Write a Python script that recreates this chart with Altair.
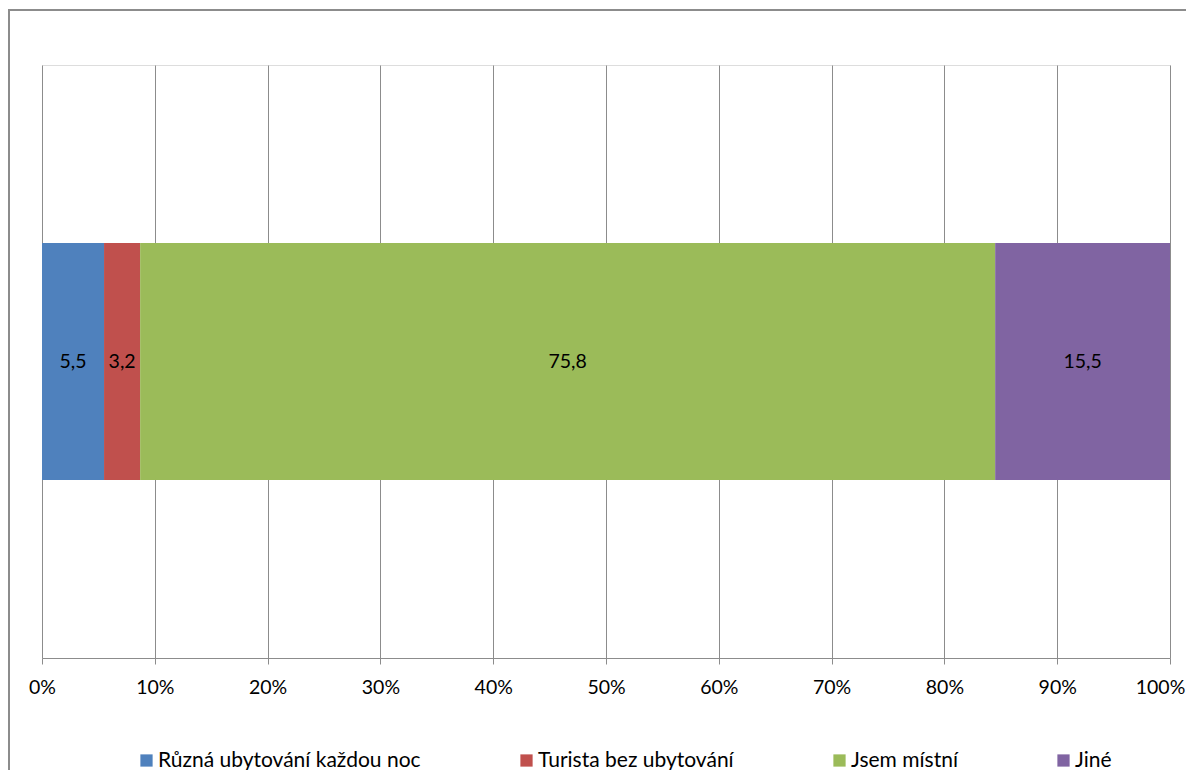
import altair as alt
import pandas as pd

categories = ["Různá ubytování každou noc", "Turista bez ubytování", "Jsem místní", "Jiné"]
values = [5.5, 3.2, 75.8, 15.5]
value_labels = ["5,5", "3,2", "75,8", "15,5"]
colors = ["#4F81BD", "#C0504D", "#9BBB59", "#8064A2"]
tick_values = [i / 10 for i in range(11)]

df = pd.DataFrame({
    "kategorie": categories,
    "hodnota": values,
    "popisek": value_labels,
    "poradi": list(range(len(categories))),
    "radek": ["" for _ in categories],
})

W, H = 1128, 593
FONT = "Lato"
FS = 19.5

base = alt.Chart(df).transform_stack(
    stack="hodnota", groupby=["radek"], as_=["v0", "v1"], offset="normalize",
    sort=[alt.SortField("poradi", order="ascending")],
).transform_calculate(mid="(datum.v0 + datum.v1) / 2")

y_enc = alt.Y("radek:N", axis=None,
              scale=alt.Scale(paddingInner=0, paddingOuter=0.751))

bars = base.mark_bar(stroke=None).encode(
    x=alt.X("v0:Q",
            scale=alt.Scale(domain=[0, 1], nice=False, zero=True),
            axis=alt.Axis(values=tick_values, format=".0%", title=None,
                          grid=True, gridColor="#8C8C8C", gridWidth=1,
                          domainColor="#8C8C8C", domainWidth=1,
                          tickColor="#8C8C8C", tickSize=6, tickWidth=1,
                          labelFont=FONT, labelFontSize=FS, labelColor="#000000",
                          labelPadding=14, labelFlush=False,
                          labelOffset=alt.expr("datum.value == 1 ? -10 : 0"))),
    x2="v1:Q",
    y=y_enc,
    color=alt.Color("kategorie:N",
                    scale=alt.Scale(domain=categories, range=colors),
                    legend=alt.Legend(orient="none", direction="horizontal",
                                      legendX=94, legendY=685, title=None,
                                      symbolType="square", symbolSize=150,
                                      symbolStrokeWidth=0,
                                      labelFont=FONT, labelFontSize=21,
                                      labelColor="#000000", columnPadding=95,
                                      labelLimit=500, labelOffset=1, columns=4,
                                      gridAlign="none")),
)

texts = base.mark_text(font=FONT, fontSize=FS, color="#000000").encode(
    x=alt.X("mid:Q"),
    y=y_enc,
    text="popisek:N",
)

frame = alt.Chart(df).mark_rect(fill=None, stroke="#8C8C8C", strokeWidth=2).encode(
    x=alt.value(-33), x2=alt.value(W + 100),
    y=alt.value(-55), y2=alt.value(H + 200),
)

chart = alt.layer(frame, bars, texts).properties(
    width=W, height=H,
    autosize=alt.AutoSizeParams(type="none"),
    padding={"left": 34, "top": 57, "right": 16, "bottom": 112},
).configure_view(stroke=None).configure(background="#FFFFFF")

chart.save("out.html", embed_options={"renderer": "svg", "actions": False})
